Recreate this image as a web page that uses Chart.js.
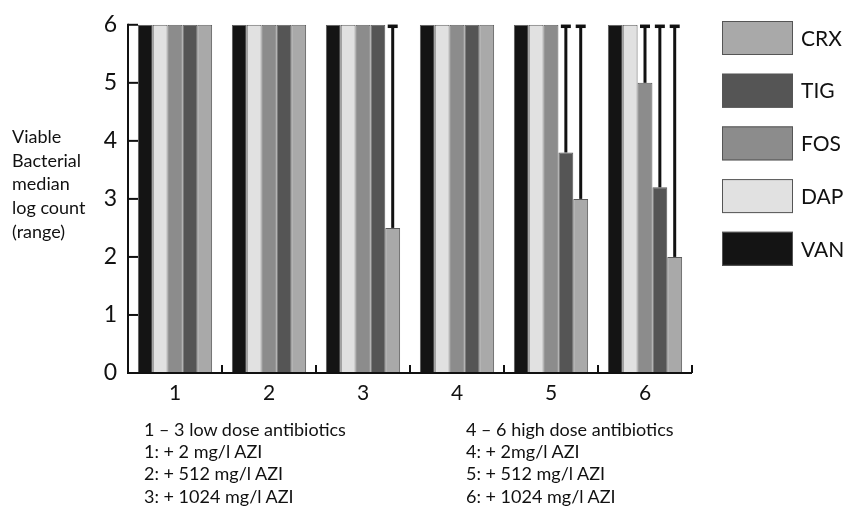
<!DOCTYPE html>
<html>
<head>
<meta charset="utf-8">
<script src="https://cdn.jsdelivr.net/npm/chart.js@4.4.1/dist/chart.umd.min.js"></script>
<style>
  body { margin: 0; background: #fff; font-family: Lato, sans-serif; color: #111; }
  #wrap { position: relative; width: 846px; height: 506px; overflow: hidden; }
  #wrap canvas { position: absolute; left: 0; top: 0; }
  .ytitle { position: absolute; left: 12px; top: 125px; font-size: 18px; line-height: 23.7px; }
  .notes { position: absolute; top: 418px; font-size: 18px; line-height: 22.2px; white-space: nowrap; }
</style>
</head>
<body>
<div id="wrap">
  <canvas id="myChart" width="846" height="506"></canvas>
  <div class="ytitle">Viable<br>Bacterial<br>median<br>log count<br>(range)</div>
  <div class="notes" style="left:144px">1 – 3 low dose antibiotics<br>1: + 2 mg/l AZI<br>2: + 512 mg/l AZI<br>3: + 1024 mg/l AZI</div>
  <div class="notes" style="left:466px">4 – 6 high dose antibiotics<br>4: + 2mg/l AZI<br>5: + 512 mg/l AZI<br>6: + 1024 mg/l AZI</div>
</div>
<script>
// groups on the x axis
var _labels = ['1', '2', '3', '4', '5', '6'];

// median log counts
var van = [6, 6, 6, 6, 6, 6];
var dap = [6, 6, 6, 6, 6, 6];
var fos = [6, 6, 6, 6, 6, 5];
var tig = [6, 6, 6, 6, 3.8, 3.2];
var crx = [6, 6, 2.5, 6, 3, 2];

// upper end of range (null = no error bar)
var fosMax = [null, null, null, null, null, 6];
var tigMax = [null, null, null, null, 6, 6];
var crxMax = [null, null, 6, null, 6, 6];

var yTicks = [0, 1, 2, 3, 4, 5, 6];

var ctx = document.getElementById("myChart");

// range whiskers drawn on top of the bars
var rangeBars = {
  id: 'rangeBars',
  afterDatasetsDraw: function(chart) {
    var c = chart.ctx;
    var y = chart.scales.y;
    c.save();
    c.strokeStyle = '#111';
    chart.data.datasets.forEach(function(ds, i) {
      if (!ds.rangeMax) return;
      var meta = chart.getDatasetMeta(i);
      ds.rangeMax.forEach(function(v, j) {
        if (v == null) return;
        var x = meta.data[j].x;
        var top = y.getPixelForValue(v);
        var bottom = y.getPixelForValue(ds.data[j]);
        c.lineWidth = 3;
        c.beginPath();
        c.moveTo(x, bottom);
        c.lineTo(x, top + 1);
        c.stroke();
        c.lineWidth = 3.5;
        c.beginPath();
        c.moveTo(x - 5, top + 1.5);
        c.lineTo(x + 5, top + 1.5);
        c.stroke();
      });
    });
    c.restore();
  }
};

// axis lines with inward tick marks
var inwardAxes = {
  id: 'inwardAxes',
  afterDraw: function(chart) {
    var c = chart.ctx;
    var a = chart.chartArea;
    var y = chart.scales.y;
    var x = chart.scales.x;
    c.save();
    c.strokeStyle = '#111';
    c.lineWidth = 2;
    c.beginPath();
    c.moveTo(a.left, a.top - 1);
    c.lineTo(a.left, a.bottom);
    c.lineTo(a.right, a.bottom);
    c.stroke();
    yTicks.forEach(function(t) {
      var py = y.getPixelForValue(t);
      c.beginPath();
      c.moveTo(a.left, py);
      c.lineTo(a.left + 10, py);
      c.stroke();
    });
    var step = x.getPixelForValue(1) - x.getPixelForValue(0);
    for (var i = 1; i <= _labels.length; i++) {
      var px = x.getPixelForValue(i) - step / 2;
      c.beginPath();
      c.moveTo(px, a.bottom);
      c.lineTo(px, a.bottom - 8);
      c.stroke();
    }
    c.restore();
  }
};

// legend boxes on the right, top to bottom reversed
var sideLegend = {
  id: 'sideLegend',
  afterDraw: function(chart) {
    var c = chart.ctx;
    var list = chart.data.datasets.slice().reverse();
    c.save();
    c.font = '21px Lato';
    c.textBaseline = 'middle';
    list.forEach(function(ds, i) {
      var top = 21 + i * 52.7;
      c.fillStyle = ds.backgroundColor;
      c.fillRect(722, top, 71, 34);
      c.strokeStyle = '#555';
      c.lineWidth = 1;
      c.strokeRect(722.5, top + 0.5, 70, 33);
      c.fillStyle = '#111';
      c.fillText(ds.label, 801, top + 18);
    });
    c.restore();
  }
};

function bars(label, data, color, rangeMax) {
  return {
    label: label,
    data: data,
    backgroundColor: color,
    borderColor: '#5a5a5a',
    borderWidth: 1,
    rangeMax: rangeMax
  };
}

var myBarChart = new Chart(ctx, {
  type: 'bar',
  data: {
    labels: _labels,
    datasets: [
      bars('VAN', van, '#141414', null),
      bars('DAP', dap, '#e1e1e1', null),
      bars('FOS', fos, '#8c8c8c', fosMax),
      bars('TIG', tig, '#555555', tigMax),
      bars('CRX', crx, '#a9a9a9', crxMax)
    ]
  },
  options: {
    responsive: false,
    animation: false,
    layout: { padding: { left: 0, right: 154, top: 20, bottom: 0 } },
    datasets: { bar: { barPercentage: 1, categoryPercentage: 0.79 } },
    plugins: { legend: { display: false }, tooltip: { enabled: false } },
    scales: {
      x: {
        grid: { display: false, drawTicks: false },
        border: { display: false },
        ticks: { color: '#111', font: { family: 'Lato', size: 21 }, padding: 8 },
        afterFit: function(s) { s.height = 506 - 373; }
      },
      y: {
        min: 0,
        max: 6,
        afterBuildTicks: function(s) { s.ticks = yTicks.map(function(v) { return { value: v }; }); },
        grid: { display: false, drawTicks: false },
        border: { display: false },
        ticks: { color: '#111', font: { family: 'Lato', size: 23 }, padding: 11 },
        afterFit: function(s) { s.width = 128; }
      }
    }
  },
  plugins: [rangeBars, inwardAxes, sideLegend]
});
</script>
</body>
</html>
